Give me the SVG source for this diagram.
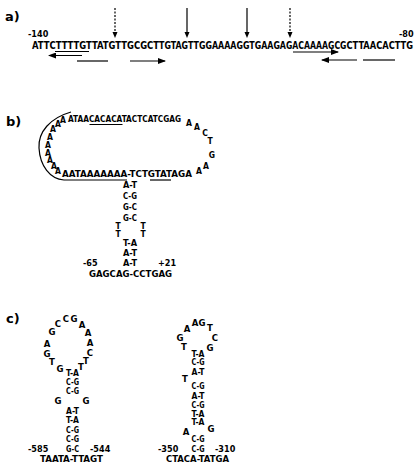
<svg xmlns="http://www.w3.org/2000/svg" width="418" height="476" viewBox="0 0 418 476">
<defs>
<style>
.t{font-family:"DejaVu Sans Condensed","DejaVu Sans","Liberation Sans",sans-serif;font-weight:bold;font-stretch:condensed;font-size:9.5px;fill:#000}
.s{font-size:9.6px}
.n{font-size:9px}
.sm{font-size:8.5px}
.m{text-anchor:middle}
.lbl{font-family:"DejaVu Sans","Liberation Sans",sans-serif;font-weight:bold;font-size:13px;fill:#000}
.ln{stroke:#000;stroke-width:1.2;fill:none}
.dash{stroke-dasharray:2 1.5}
</style>
<marker id="ah" viewBox="0 0 8 6" refX="7" refY="3" markerWidth="8" markerHeight="6" markerUnits="userSpaceOnUse" orient="auto">
<path d="M0,0 L8,3 L0,6 z" fill="#000"/>
</marker>
</defs>
<rect width="418" height="476" fill="#fff"/>

<g id="panel-a">
<text class="lbl" x="5" y="21">a)</text>
<text class="t n" x="28" y="37">-140</text>
<text class="t n" x="399" y="37">-80</text>
<text class="t s" x="32" y="49" textLength="127" lengthAdjust="spacingAndGlyphs">ATTCTTTTGTTATGTTGCGCT</text>
<text class="t s" x="159" y="49" textLength="127" lengthAdjust="spacingAndGlyphs">TGTAGTTGGAAAAGGTGAAGA</text>
<text class="t s" x="286" y="49" textLength="60.5" lengthAdjust="spacingAndGlyphs">GACAAAAGCG</text>
<text class="t s" x="346.5" y="49" textLength="66.5" lengthAdjust="spacingAndGlyphs">CTTAACACTTG</text>
</g>

<g id="connectors">
<line class="ln dash" x1="115" y1="8" x2="115" y2="33"/>
<polygon points="112.5,32 117.5,32 115,38" fill="#000"/>
<line class="ln" x1="187" y1="8" x2="187" y2="33"/>
<polygon points="184.5,32 189.5,32 187,38" fill="#000"/>
<line class="ln" x1="247" y1="8" x2="247" y2="33"/>
<polygon points="244.5,32 249.5,32 247,38" fill="#000"/>
<line class="ln dash" x1="290" y1="8" x2="290" y2="33"/>
<polygon points="287.5,32 292.5,32 290,38" fill="#000"/>
<line class="ln" x1="55" y1="51.5" x2="89" y2="51.5"/>
<line class="ln" x1="82" y1="55.5" x2="49" y2="55.5" marker-end="url(#ah)"/>
<line class="ln" x1="77" y1="61" x2="108" y2="61"/>
<line class="ln" x1="130" y1="61" x2="165" y2="61" marker-end="url(#ah)"/>
<line class="ln" x1="293" y1="52" x2="338" y2="52" marker-end="url(#ah)"/>
<line class="ln" x1="357" y1="60" x2="322" y2="60" marker-end="url(#ah)"/>
<line class="ln" x1="363" y1="60" x2="395" y2="60"/>
<path class="ln" d="M71,112 C50,118 38,132 39,148 C40,166 50,179 64,180 L127,180"/>
<line class="ln" x1="89.5" y1="124.5" x2="122.5" y2="124.5"/>
<line class="ln" x1="150" y1="180" x2="171" y2="180"/>
</g>

<g id="panel-b">
<text class="lbl" x="6" y="126">b)</text>
<text class="t" x="68" y="122" textLength="113" lengthAdjust="spacingAndGlyphs">ATAACACACATACTCATCGAG</text>
<g class="t sm m">
<text x="63" y="123">A</text>
<text x="58" y="126.5">A</text>
<text x="53" y="132">A</text>
<text x="50" y="139.5">A</text>
<text x="48" y="147.5">A</text>
<text x="48" y="155.5">A</text>
<text x="50" y="163">A</text>
<text x="54" y="169">A</text>
<text x="58" y="174">A</text>
<text x="189" y="126">A</text>
<text x="197" y="129.5">A</text>
<text x="205" y="136">C</text>
<text x="210" y="144">T</text>
<text x="212" y="158">G</text>
<text x="206" y="169">A</text>
<text x="199" y="174">A</text>
</g>
<text class="t" x="62" y="177" textLength="130" lengthAdjust="spacingAndGlyphs">AATAAAAAAA-TCTGTATAGA</text>
<g class="t m">
<text x="130" y="188" textLength="14" lengthAdjust="spacingAndGlyphs">A-T</text>
<text x="130" y="199" textLength="14" lengthAdjust="spacingAndGlyphs">C-G</text>
<text x="130" y="210" textLength="14" lengthAdjust="spacingAndGlyphs">G-C</text>
<text x="130" y="221" textLength="14" lengthAdjust="spacingAndGlyphs">G-C</text>
<text class="sm" x="118" y="229">T</text>
<text class="sm" x="118" y="237">T</text>
<text class="sm" x="143" y="229">T</text>
<text class="sm" x="143" y="237">T</text>
<text x="130" y="246" textLength="14" lengthAdjust="spacingAndGlyphs">T-A</text>
<text x="130" y="256" textLength="14" lengthAdjust="spacingAndGlyphs">A-T</text>
<text x="130" y="266" textLength="14" lengthAdjust="spacingAndGlyphs">A-T</text>
</g>
<text class="t n" x="83" y="266">-65</text>
<text class="t n" x="158" y="266">+21</text>
<text class="t" x="89" y="277" textLength="83" lengthAdjust="spacingAndGlyphs">GAGCAG-CCTGAG</text>
</g>

<g id="panel-c-left">
<text class="lbl" x="6" y="323">c)</text>
<g class="t m">
<text x="52" y="334.5">G</text>
<text x="58" y="326.5">C</text>
<text x="66" y="321.5">C</text>
<text x="74" y="321.5">G</text>
<text x="82" y="327.5">A</text>
<text x="88" y="336">A</text>
<text x="90" y="346">A</text>
<text x="90" y="355.5">C</text>
<text x="86" y="363.5">T</text>
<text x="81" y="369.5">T</text>
<text x="47" y="346.5">A</text>
<text x="47" y="356.5">G</text>
<text x="52" y="364.5">T</text>
<text x="60" y="371.5">G</text>
<text x="72.5" y="376" textLength="13" lengthAdjust="spacingAndGlyphs">T-A</text>
<text x="72.5" y="385" textLength="13" lengthAdjust="spacingAndGlyphs">C-G</text>
<text x="72.5" y="394" textLength="13" lengthAdjust="spacingAndGlyphs">C-G</text>
<text x="58" y="404">G</text>
<text x="86" y="404">G</text>
<text x="72.5" y="414" textLength="13" lengthAdjust="spacingAndGlyphs">A-T</text>
<text x="72.5" y="423" textLength="13" lengthAdjust="spacingAndGlyphs">T-A</text>
<text x="72.5" y="433" textLength="13" lengthAdjust="spacingAndGlyphs">C-G</text>
<text x="72.5" y="442" textLength="13" lengthAdjust="spacingAndGlyphs">C-G</text>
<text x="72.5" y="452" textLength="13" lengthAdjust="spacingAndGlyphs">G-C</text>
</g>
<text class="t n" x="28" y="452">-585</text>
<text class="t n" x="90" y="452">-544</text>
<text class="t" x="40" y="462" textLength="63" lengthAdjust="spacingAndGlyphs">TAATA-TTAGT</text>
</g>

<g id="panel-c-right">
<g class="t m">
<text x="180" y="340.5">G</text>
<text x="187" y="331.5">A</text>
<text x="195" y="325.5">A</text>
<text x="202" y="325.5">G</text>
<text x="210" y="330.5">T</text>
<text x="215" y="340.5">C</text>
<text x="210" y="351">G</text>
<text x="184" y="349.5">T</text>
<text x="198" y="357" textLength="13" lengthAdjust="spacingAndGlyphs">T-A</text>
<text x="198" y="365" textLength="13" lengthAdjust="spacingAndGlyphs">C-G</text>
<text x="198" y="375" textLength="13" lengthAdjust="spacingAndGlyphs">A-T</text>
<text x="185" y="382">T</text>
<text x="198" y="389" textLength="13" lengthAdjust="spacingAndGlyphs">C-G</text>
<text x="198" y="399" textLength="13" lengthAdjust="spacingAndGlyphs">A-T</text>
<text x="198" y="408" textLength="13" lengthAdjust="spacingAndGlyphs">C-G</text>
<text x="198" y="417" textLength="13" lengthAdjust="spacingAndGlyphs">T-A</text>
<text x="198" y="425" textLength="13" lengthAdjust="spacingAndGlyphs">T-A</text>
<text x="186" y="435">A</text>
<text x="211" y="432">G</text>
<text x="198" y="442" textLength="13" lengthAdjust="spacingAndGlyphs">C-G</text>
<text x="198" y="452" textLength="13" lengthAdjust="spacingAndGlyphs">C-G</text>
</g>
<text class="t n" x="158" y="452">-350</text>
<text class="t n" x="215" y="452">-310</text>
<text class="t" x="166" y="462" textLength="63" lengthAdjust="spacingAndGlyphs">CTACA-TATGA</text>
</g>
</svg>
